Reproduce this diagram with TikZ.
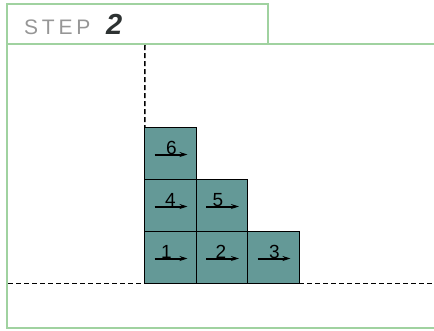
\documentclass[tikz,border=0pt]{standalone}
\usepackage{fontspec}
\setmainfont{Liberation Sans}
\usetikzlibrary{arrows.meta}
\definecolor{frame}{RGB}{160,210,160}
\definecolor{teal}{RGB}{100,153,151}
\definecolor{steptxt}{RGB}{150,150,150}
\definecolor{numtxt}{RGB}{45,50,50}
\tikzset{
  blk/.style={draw=black, line width=1.3pt, fill=teal, minimum width=51.5pt, minimum height=52pt, inner sep=0pt, outer sep=0pt},
  mv/.style={-{Stealth[length=8pt,width=5pt]}, line width=2pt, black},
  num/.style={font=\fontsize{19}{19}\selectfont, inner sep=0pt, anchor=base},
  gnd/.style={dashed, dash pattern=on 5pt off 3pt, line width=1.5pt},
}
\begin{document}
\begin{tikzpicture}[x=1pt,y=-1pt]
\useasboundingbox (0,0) rectangle (434,330);
% frames
\draw[frame, line width=1.6pt] (7,44) rectangle (268,4);
\draw[frame, line width=1.8pt] (440,44) -- (7,44) -- (7,328) -- (440,328);
\node[anchor=base west, inner sep=0pt, text=steptxt, font=\fontsize{21}{21}\selectfont\addfontfeature{LetterSpace=18}] (steplbl) at (24,34) {STEP};
\node[anchor=base west, inner sep=0pt, text=numtxt, font=\fontsize{29}{29}\selectfont\bfseries\itshape] (stepnum) at (106,34) {2};
% blocks
\node[blk] (b1) at (170.5,257.5) {};
\node[blk] (b2) at (222,257.5) {};
\node[blk] (b3) at (273.5,257.5) {};
\node[blk] (b4) at (170.5,205.5) {};
\node[blk] (b5) at (222,205.5) {};
\node[blk] (b6) at (170.5,153.5) {};
% dashed guides
\coordinate (gl) at (8,283.5);
\coordinate (gr) at (434,283.5);
\coordinate (vt) at (145,45);
\draw[gnd] (gl) -- (b1.south west);
\draw[gnd] (b3.south east) -- (gr);
\draw[gnd] (vt) -- (b6.north west);
% arrows and numbers
\foreach \b/\n/\dx in {b1/1/-4, b2/2/-1, b3/3/1, b4/4/0, b5/5/-4, b6/6/1}{
  \draw[mv] ([xshift=-16pt,yshift=-1pt]\b.center) -- ([xshift=17pt,yshift=-1pt]\b.center);
  \node[num] at ([xshift=\dx pt,yshift=-1pt]\b.center) {\n};
}
\end{tikzpicture}
\end{document}
